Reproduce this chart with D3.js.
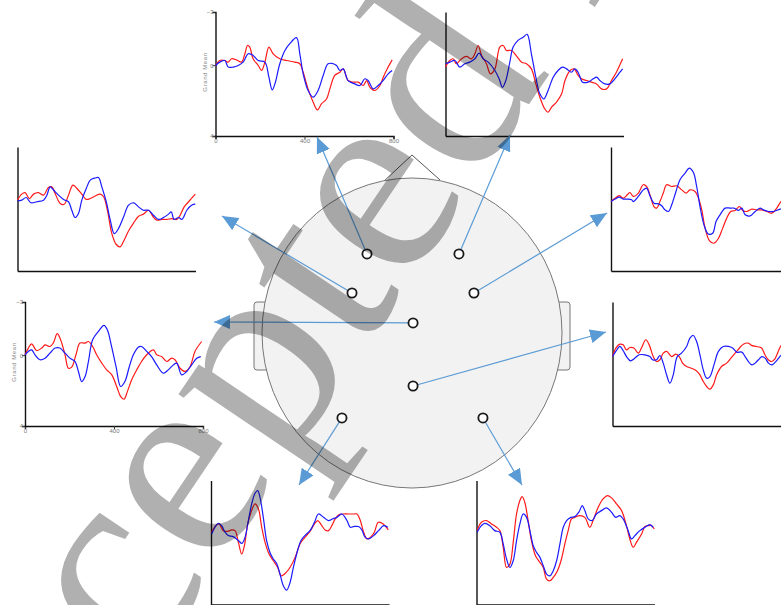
<!DOCTYPE html>
<html lang="en">
<head>
<meta charset="UTF-8">
<title>Grand Mean ERPs per electrode</title>
<script src="https://d3js.org/d3.v7.min.js"></script>
<style>
  html, body { margin: 0; padding: 0; background: #fff; }
  svg { display: block; }
</style>
</head>
<body>
<svg id="canvas"></svg>
<script>
// grand mean waveforms, [time ms, amplitude uV]
let p1Blue = [[0,0.02],[19,-0.17],[42,-0.26],[57,0.11],[79,0.11],[102,0.02],[124,-0.17],[147,-0.64],[169,-0.55],[192,-0.26],[222,-0.17],[240,0.68],[255,1.40],[267,1.06],[289,-0.08],[312,-0.83],[334,-1.21],[364,-1.55],[379,-0.64],[394,0.49],[416,1.43],[439,1.81],[461,1.43],[484,0.58],[506,-0.08],[529,-0.08],[544,0.02],[559,0.30],[574,0.21],[596,0.87],[626,1.06],[649,1.15],[671,0.77],[686,0.87],[709,1.34],[731,1.15],[753,0.87],[776,0.49],[794,0.30]]
let p1Red = [[0,0.02],[19,-0.26],[42,-0.26],[57,-0.17],[72,-0.36],[94,-0.30],[117,-0.17],[132,-0.64],[144,-1.11],[154,-1.02],[169,-0.36],[192,0.02],[207,0.30],[222,-0.17],[240,-1.02],[259,-0.64],[289,-0.36],[319,-0.26],[357,-0.17],[379,-0.08],[394,0.40],[416,1.34],[439,2.09],[458,2.53],[476,2.19],[499,1.91],[514,1.34],[536,0.58],[559,0.40],[574,0.21],[596,0.87],[619,0.96],[641,0.96],[664,1.15],[679,0.87],[694,1.25],[716,1.43],[739,1.15],[754,0.68],[776,0.11],[794,-0.30]]

let p2Blue = [[0,-0.08],[19,-0.17],[42,-0.26],[64,0.11],[87,-0.08],[109,-0.17],[132,-0.36],[151,-0.68],[169,-0.36],[192,-0.17],[222,0.30],[241,0.77],[256,1.25],[271,0.87],[289,-0.17],[304,-1.02],[326,-1.40],[349,-1.58],[367,-1.74],[386,-0.64],[406,0.68],[424,1.62],[442,1.91],[461,1.43],[484,0.68],[506,0.30],[526,0.11],[544,0.21],[566,0.40],[581,0.21],[596,0.40],[616,0.96],[641,0.96],[664,0.77],[679,0.68],[694,0.87],[716,1.06],[739,1.06],[761,0.77],[784,0.40],[796,0.21]]
let p2Red = [[0,0.11],[19,-0.26],[34,-0.36],[49,-0.08],[72,-0.36],[94,-0.49],[117,-0.36],[132,-0.64],[147,-1.11],[162,-0.55],[184,-0.08],[202,0.49],[222,0.21],[244,-1.02],[259,-1.11],[274,-0.83],[297,-0.83],[317,-0.55],[342,-0.17],[364,-0.08],[386,0.21],[406,1.06],[424,1.81],[446,2.47],[461,2.66],[476,2.38],[499,2.09],[522,1.62],[537,0.87],[560,0.30],[578,0.21],[596,0.58],[611,0.77],[634,0.87],[656,0.96],[679,1.06],[701,1.34],[724,1.34],[746,0.87],[768,0.40],[796,-0.36]]

let p3Blue = [[0,0.04],[19,0],[39,-0.15],[60,0.15],[87,0.09],[117,0],[132,-0.28],[147,-0.75],[162,-0.57],[184,-0.28],[207,-0.04],[229,0.09],[244,0.57],[259,0.98],[274,0.75],[289,0],[309,-0.66],[327,-1.13],[349,-1.25],[364,-1.28],[379,-0.75],[399,0.09],[417,1.13],[435,1.89],[454,1.60],[477,0.94],[499,0.28],[522,0.15],[544,0.38],[566,0.57],[589,0.57],[611,0.85],[634,1.09],[656,0.98],[679,0.79],[691,0.66],[704,1.09],[724,0.98],[739,1.09],[761,0.57],[784,0.28],[799,0.23]]
let p3Red = [[0,0],[19,-0.34],[34,-0.42],[54,-0.09],[72,-0.34],[94,-0.42],[117,-0.28],[139,-0.72],[154,-0.75],[169,-0.38],[192,0.19],[210,0.23],[229,-0.28],[249,-0.85],[267,-0.66],[289,-0.34],[309,-0.04],[327,-0.09],[349,-0.23],[372,-0.34],[387,-0.19],[404,0.57],[424,1.89],[443,2.49],[461,2.64],[479,2.26],[499,1.74],[522,1.28],[544,0.91],[566,0.79],[589,0.57],[608,0.91],[626,1.13],[649,1.09],[671,1.09],[694,1.04],[716,1.09],[731,0.85],[749,0.38],[769,0.09],[799,-0.34]]

let p4Blue = [[0,0.08],[18,-0.06],[37,-0.17],[55,-0.06],[73,-0.06],[93,-0.02],[100,0.08],[123,-0.21],[145,-0.58],[160,-0.68],[175,-0.25],[193,0.17],[213,0.21],[228,0.32],[243,0.55],[258,0.64],[273,0.26],[292,-0.49],[310,-1.15],[333,-1.53],[352,-1.81],[370,-1.57],[385,-0.77],[400,0.36],[418,1.40],[437,1.91],[457,1.87],[472,1.21],[490,0.83],[513,0.45],[535,0.45],[553,0.45],[573,0.58],[588,0.45],[603,0.83],[625,0.89],[648,0.64],[670,0.45],[685,0.55],[708,0.64],[730,0.64],[760,0.51],[800,0.40]]
let p4Red = [[0,0.08],[18,-0.11],[37,-0.25],[55,-0.11],[73,-0.30],[85,-0.43],[100,-0.21],[123,-0.40],[145,-0.87],[160,-0.77],[175,-0.30],[193,0.36],[205,0.45],[220,0.08],[235,-0.40],[250,-0.87],[273,-0.77],[295,-0.81],[318,-0.58],[337,-0.40],[355,-0.58],[378,-0.49],[393,-0.11],[408,0.55],[423,1.58],[442,2.28],[463,2.43],[483,2.15],[502,1.58],[520,1.02],[538,0.64],[558,0.58],[577,0.36],[592,0.58],[610,0.64],[633,0.51],[655,0.55],[677,0.55],[700,0.64],[722,0.74],[745,0.45],[764,0.08],[800,-0.30]]

let p5Blue = [[0,-0.02],[15,-0.21],[30,-0.30],[45,-0.02],[67,0.26],[90,0.17],[112,-0.11],[135,-0.40],[157,-0.40],[180,-0.11],[202,0.17],[225,0.36],[240,0.92],[255,1.49],[270,1.21],[285,0.36],[304,-0.87],[330,-1.34],[355,-1.68],[370,-1.43],[389,-0.49],[409,0.64],[430,1.77],[449,1.49],[469,0.64],[487,-0.02],[509,-0.45],[524,-0.49],[547,-0.21],[569,0.08],[592,0.55],[622,1.02],[644,0.83],[667,0.55],[682,0.45],[704,1.11],[727,0.92],[749,0.55],[772,0.17],[790,0.08]]
let p5Red = [[0,-0.02],[15,-0.40],[30,-0.64],[52,-0.26],[75,-0.40],[90,-0.58],[112,-0.49],[127,-0.68],[145,-1.21],[160,-0.87],[180,-0.02],[195,0.74],[210,0.68],[229,-0.02],[247,-0.68],[270,-0.68],[285,-0.77],[304,-0.49],[322,-0.02],[345,0.45],[367,0.83],[390,1.11],[412,1.77],[430,2.34],[445,2.49],[460,2.06],[479,1.40],[502,0.83],[524,0.36],[547,-0.02],[577,-0.30],[592,-0.02],[614,0.08],[637,0.36],[659,0.17],[674,0.26],[697,0.74],[719,0.92],[742,0.64],[764,-0.21],[794,-0.77]]

let p6Blue = [[0,0.08],[15,-0.21],[33,-0.49],[48,-0.25],[63,0.08],[81,0.32],[100,0.17],[120,-0.02],[145,-0.02],[168,0.08],[180,0.26],[198,0.26],[213,0.02],[228,0.45],[243,1.11],[258,1.58],[273,1.11],[291,0.08],[310,-0.11],[333,-0.49],[348,-0.96],[363,-1.11],[378,-0.77],[393,-0.02],[408,0.83],[423,1.30],[438,1.21],[456,0.55],[476,-0.21],[498,-0.49],[521,-0.49],[540,-0.40],[558,-0.17],[581,-0.17],[596,0.08],[611,0.36],[626,0.55],[641,0.45],[656,0.26],[671,0.08],[686,0.17],[701,0.45],[716,0.55],[737,0.32],[760,-0.02],[800,-0.20]]
let p6Red = [[0,0.08],[15,-0.40],[33,-0.62],[48,-0.58],[63,-0.30],[78,-0.43],[96,-0.40],[116,-0.11],[130,-0.40],[150,-0.87],[165,-0.58],[183,0.08],[198,0.36],[213,0.26],[228,-0.11],[243,-0.21],[266,0.08],[285,-0.06],[300,0.08],[315,0.45],[333,0.64],[355,0.74],[378,0.89],[393,1.11],[408,1.49],[423,1.77],[438,1.92],[453,1.68],[468,1.11],[490,0.64],[513,0.45],[535,0.13],[558,-0.21],[573,-0.43],[588,-0.62],[610,-0.68],[625,-0.55],[647,-0.49],[670,-0.40],[685,-0.02],[700,0.26],[715,0.36],[730,0.21],[745,-0.21],[760,-0.58],[800,-0.90]]

let p7Blue = [[3,0.02],[18,-0.36],[33,-0.58],[48,-0.45],[63,-0.08],[78,0.11],[100,0.17],[124,0.40],[139,0.55],[153,0.21],[168,-0.74],[183,-1.68],[198,-2.28],[210,-2.43],[220,-2.06],[235,-0.92],[250,0.40],[265,1.06],[280,1.43],[295,1.68],[310,2.28],[325,2.94],[340,3.19],[355,2.77],[370,1.92],[385,1.15],[404,0.40],[422,0.11],[445,-0.17],[465,-0.64],[483,-1.11],[506,-0.92],[528,-0.74],[546,-0.83],[566,-0.92],[588,-1.11],[611,-0.74],[626,-0.36],[641,-0.40],[663,-0.40],[678,-0.21],[693,0.21],[708,0.30],[731,0.11],[753,-0.17],[776,-0.45],[795,-0.36]]
let p7Red = [[3,-0.08],[21,-0.45],[36,-0.55],[55,-0.17],[75,-0.13],[93,-0.21],[108,-0.17],[123,0.49],[138,1.15],[150,0.68],[165,-0.55],[180,-1.21],[198,-1.68],[213,-1.40],[228,-0.36],[243,0.49],[261,1.15],[280,1.53],[300,1.91],[315,2.38],[333,2.25],[355,1.91],[378,1.34],[400,0.58],[422,0.21],[445,-0.13],[465,-0.55],[480,-0.74],[498,-0.45],[513,-0.21],[528,-0.17],[543,-0.45],[558,-0.83],[576,-1.08],[596,-1.11],[618,-1.11],[641,-1.11],[656,-1.11],[671,-0.74],[686,-0.08],[701,0.30],[716,0.21],[734,-0.08],[752,-0.64],[774,-0.55],[797,-0.21]]

let p8Blue = [[3,-0.08],[22,-0.45],[37,-0.58],[60,-0.45],[82,-0.17],[105,-0.08],[120,0.58],[135,1.43],[150,1.91],[165,1.53],[180,0.40],[195,-0.55],[210,-1.11],[225,-0.92],[240,-0.17],[255,0.68],[270,1.06],[285,1.34],[300,1.81],[315,2.28],[330,2.38],[345,2.09],[360,1.53],[375,0.58],[390,-0.36],[405,-0.74],[424,-0.92],[442,-0.96],[460,-1.21],[475,-1.58],[487,-1.30],[502,-0.83],[520,-0.74],[539,-1.11],[562,-1.30],[584,-1.45],[607,-1.21],[625,-0.92],[644,-1.02],[659,-0.83],[679,-0.26],[697,0.30],[712,0.11],[734,-0.17],[757,-0.36],[779,-0.51],[794,-0.36]]
let p8Red = [[3,-0.17],[22,-0.64],[45,-0.74],[67,-0.55],[90,-0.36],[105,-0.17],[120,0.77],[135,1.91],[150,1.72],[165,0.49],[180,-1.11],[195,-1.87],[205,-2.09],[217,-1.77],[232,-0.74],[247,0.40],[265,1.25],[285,1.62],[300,1.91],[315,2.57],[330,2.66],[345,2.47],[364,2.09],[382,1.43],[397,0.58],[412,-0.17],[427,-0.83],[442,-0.92],[464,-1.02],[487,-0.92],[509,-0.36],[524,-0.74],[547,-1.49],[569,-1.96],[589,-2.15],[607,-2.02],[629,-1.68],[652,-1.30],[674,-0.45],[689,0.30],[704,0.77],[719,0.49],[742,0.02],[757,-0.40],[772,-0.45],[787,-0.45],[799,-0.26]]

let timeTicks = [0, 400, 800]
let ampTicks = [-3, 0, 4]
let yLabel = 'Grand Mean'
let watermark = 'Accepted Manuscript'

let width = 781
let height = 605
let plotW = 178
let plotH = 124

let svg = d3.select('#canvas')
svg.attr('width', width)
svg.attr('height', height)

svg.append('rect').attr('width', width).attr('height', height).attr('fill', '#fff')

// electrode positions in head units (-1..1), panel placement and arrow tips on page
let panels = [
  {blue: p1Blue, red: p1Red, x: 215.5, y: 12,  labels: true,  el: [-0.30, -0.51], tip: [317, 137]},
  {blue: p2Blue, red: p2Red, x: 445.5, y: 12,  labels: false, el: [0.313, -0.51], tip: [510, 135]},
  {blue: p3Blue, red: p3Red, x: 17.5,  y: 147, labels: false, el: [-0.40, -0.258], tip: [222, 216]},
  {blue: p4Blue, red: p4Red, x: 611,   y: 147, labels: false, el: [0.413, -0.258], tip: [607, 213]},
  {blue: p5Blue, red: p5Red, x: 25,    y: 302, labels: true,  el: [0.007, -0.065], tip: [214, 322]},
  {blue: p6Blue, red: p6Red, x: 612.5, y: 302, labels: false, el: [0.007, 0.342], tip: [606, 332]},
  {blue: p7Blue, red: p7Red, x: 211,   y: 480.5, labels: false, el: [-0.467, 0.548], tip: [299, 485]},
  {blue: p8Blue, red: p8Red, x: 476.5, y: 480.5, labels: false, el: [0.473, 0.548], tip: [522, 485]}
]

let xScale = d3.scaleLinear().domain([0, 800]).range([0, plotW])
let yScale = d3.scaleLinear().domain([-3, 4]).range([0, plotH])   // negative up

let line = d3.line()
  .x(d => xScale(d[0]))
  .y(d => yScale(d[1]))
  .curve(d3.curveCatmullRom.alpha(0.5))

let drawPanel = (p) => {
  let g = svg.append('g').attr('transform', 'translate(' + p.x + ',' + p.y + ')')

  let xAxis = d3.axisBottom(xScale)
  let yAxis = d3.axisLeft(yScale)
  if (p.labels) {
    xAxis.tickValues(timeTicks).tickSize(3).tickFormat(d3.format('d'))
    yAxis.tickValues(ampTicks).tickSize(3).tickFormat(d3.format('d'))
  } else {
    xAxis.tickValues([]).tickSizeOuter(0)
    yAxis.tickValues([]).tickSizeOuter(0)
  }

  let gx = g.append('g').attr('transform', 'translate(0,' + plotH + ')').call(xAxis)
  let gy = g.append('g').call(yAxis)
  for (let a of [gx, gy]) {
    a.select('.domain').attr('stroke', '#111').attr('stroke-width', 1.4)
    a.selectAll('.tick line').attr('stroke', '#333')
    a.selectAll('.tick text')
      .attr('fill', '#777')
      .style('font-family', '"Liberation Sans", Arial, sans-serif')
      .style('font-size', '6px')
  }
  gy.selectAll('.tick text').attr('x', -2)
  gx.selectAll('.tick text').attr('y', 3)

  if (p.labels) {
    g.append('text')
      .attr('transform', 'translate(-9,' + 60 + ') rotate(-90)')
      .attr('text-anchor', 'middle')
      .attr('fill', '#888')
      .style('font-family', '"Liberation Sans", Arial, sans-serif')
      .style('font-size', '6px')
      .style('letter-spacing', '0.6px')
      .text(yLabel)
  }

  g.append('path').datum(p.red)
    .attr('d', line).attr('fill', 'none')
    .attr('stroke', '#ff1a1a').attr('stroke-width', 1.2)
  g.append('path').datum(p.blue)
    .attr('d', line).attr('fill', 'none')
    .attr('stroke', '#1a1aff').attr('stroke-width', 1.2)
}

panels.forEach(drawPanel)

// head
let cx = 412, cy = 333, rx = 150, ry = 155
let hx = d3.scaleLinear().domain([-1, 1]).range([cx - rx, cx + rx])
let hy = d3.scaleLinear().domain([-1, 1]).range([cy - ry, cy + ry])

let head = svg.append('g')
// ears
head.append('path')
  .attr('d', 'M' + (cx - rx + 6) + ',' + (cy - 31) + ' H' + (cx - rx - 5) + ' q-3,0 -3,3 V' + (cy + 34) + ' q0,3 3,3 H' + (cx - rx + 6))
  .attr('fill', '#f2f2f2').attr('stroke', '#777').attr('stroke-width', 1)
head.append('path')
  .attr('d', 'M' + (cx + rx - 6) + ',' + (cy - 31) + ' H' + (cx + rx + 5) + ' q3,0 3,3 V' + (cy + 34) + ' q0,3 -3,3 H' + (cx + rx - 6))
  .attr('fill', '#f2f2f2').attr('stroke', '#777').attr('stroke-width', 1)
// nose
head.append('path')
  .attr('d', 'M' + (cx - 29) + ',' + (cy - ry + 4) + ' L' + cx + ',' + (cy - ry - 23) + ' L' + (cx + 28) + ',' + (cy - ry + 2))
  .attr('fill', 'none').attr('stroke', '#555').attr('stroke-width', 1)
head.append('ellipse')
  .attr('cx', cx).attr('cy', cy).attr('rx', rx).attr('ry', ry)
  .attr('fill', '#f2f2f2').attr('stroke', '#777').attr('stroke-width', 1)

// arrows
svg.append('defs').append('marker')
  .attr('id', 'arrow')
  .attr('markerUnits', 'userSpaceOnUse')
  .attr('viewBox', '0 0 16 14')
  .attr('refX', 16).attr('refY', 7)
  .attr('markerWidth', 16).attr('markerHeight', 14)
  .attr('orient', 'auto')
  .append('path').attr('d', 'M0,0 L16,7 L0,14 Z').attr('fill', '#5b9bd5')

svg.selectAll('line.arrow')
  .data(panels)
  .enter()
  .append('line')
  .attr('class', 'arrow')
  .attr('x1', d => hx(d.el[0])).attr('y1', d => hy(d.el[1]))
  .attr('x2', d => d.tip[0]).attr('y2', d => d.tip[1])
  .attr('stroke', '#5b9bd5').attr('stroke-width', 1.2)
  .attr('marker-end', 'url(#arrow)')

// electrodes
svg.selectAll('circle.electrode')
  .data(panels)
  .enter()
  .append('circle')
  .attr('class', 'electrode')
  .attr('cx', d => hx(d.el[0])).attr('cy', d => hy(d.el[1]))
  .attr('r', 4.6)
  .attr('fill', '#fff').attr('stroke', '#1a1a1a').attr('stroke-width', 1.8)

// watermark
svg.append('text')
  .attr('transform', 'translate(-40,948) rotate(-56)')
  .attr('fill', '#000').attr('fill-opacity', 0.31)
  .style('font-family', '"Liberation Serif", "Times New Roman", serif')
  .style('font-size', '280px')
  .text(watermark)
</script>
</body>
</html>
